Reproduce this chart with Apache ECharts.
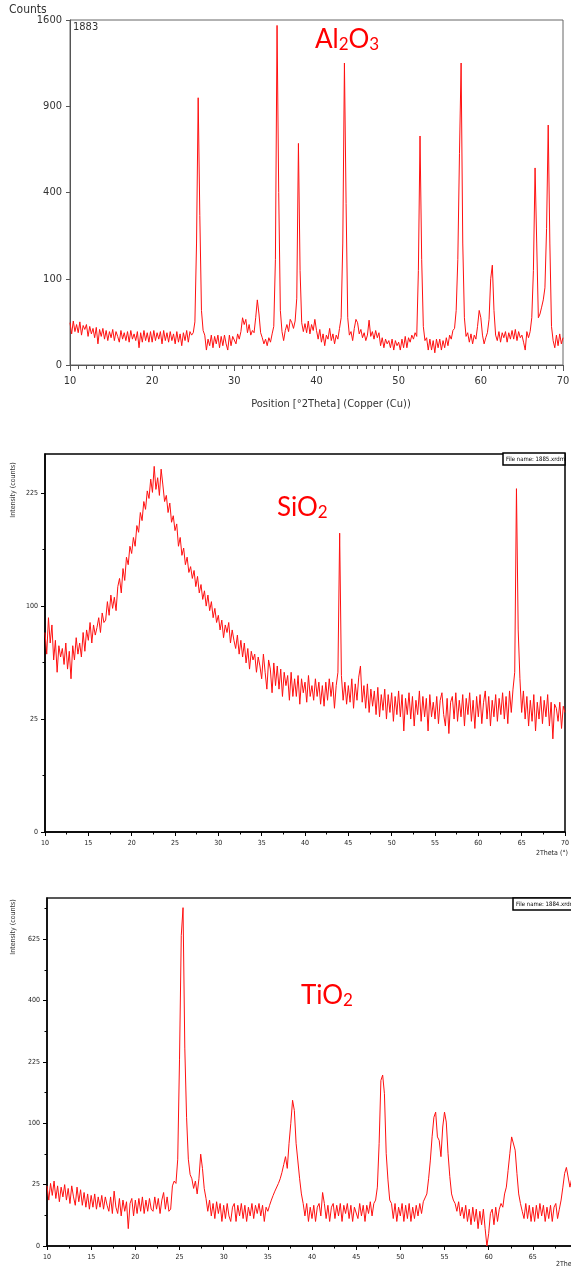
<!DOCTYPE html>
<html>
<head>
<meta charset="utf-8">
<script src="https://cdn.jsdelivr.net/npm/echarts@6/dist/echarts.min.js"></script>
<style>
  html, body { margin: 0; padding: 0; background: #fff; overflow: hidden; }
  #main { width: 571px; height: 1269px; }
</style>
</head>
<body>
<div id="main"></div>
<script>
// all three scans start at 10 deg 2theta, one reading every 0.2 deg
const START_ANGLE = 10
const STEP = 0.2

// Al2O3 counts, one row per degree (10 .. 69) and the last point at 70
const al2o3Counts = [
  24, 13, 26, 15, 22,
  14, 25, 12, 21, 17,
  22, 11, 20, 13, 18,
  10, 19, 6, 17, 11,
  18, 9, 16, 8, 15,
  10, 17, 8, 15, 11,
  7, 16, 9, 14, 8,
  15, 7, 16, 9, 13,
  8, 15, 4, 14, 7,
  16, 8, 14, 7, 15,
  7, 16, 8, 14, 9,
  15, 6, 16, 8, 14,
  7, 15, 8, 13, 6,
  15, 7, 13, 5, 14,
  8, 16, 7, 15, 12,
  14, 25, 200, 960, 300,
  40, 16, 12, 3, 9,
  5, 12, 4, 11, 6,
  12, 4, 11, 5, 12,
  6, 3, 12, 5, 11,
  11, 6, 13, 9, 15,
  30, 22, 28, 14, 22,
  12, 16, 14, 30, 57,
  35, 14, 10, 6, 9,
  5, 10, 7, 13, 20,
  150, 1550, 400, 40, 15,
  8, 16, 22, 15, 28,
  24, 18, 26, 60, 660,
  120, 24, 15, 23, 14,
  26, 13, 22, 16, 28,
  16, 9, 17, 7, 13,
  5, 12, 9, 18, 8,
  13, 6, 12, 9, 18,
  30, 200, 1226, 350, 30,
  12, 15, 8, 18, 28,
  24, 13, 17, 10, 14,
  8, 12, 27, 11, 15,
  9, 16, 10, 14, 5,
  10, 4, 9, 6, 8,
  4, 9, 3, 8, 5,
  7, 3, 9, 4, 11,
  4, 10, 7, 12, 9,
  14, 11, 120, 705, 150,
  20, 8, 10, 3, 9,
  3, 8, 2, 9, 4,
  9, 3, 8, 4, 10,
  5, 12, 9, 16, 18,
  40, 150, 600, 1226, 200,
  30, 11, 14, 7, 13,
  6, 12, 9, 20, 40,
  30, 12, 6, 10, 14,
  28, 100, 134, 40, 12,
  8, 15, 7, 14, 10,
  15, 7, 14, 9, 16,
  9, 17, 8, 15, 10,
  12, 7, 3, 15, 10,
  15, 30, 120, 522, 200,
  30, 35, 45, 57, 80,
  250, 774, 200, 20, 8,
  4, 12, 5, 13, 6,
  10
]

// SiO2 counts
const sio2Counts = [
  78, 62, 90, 70, 84,
  58, 72, 50, 68, 60,
  66, 55, 70, 52, 64,
  46, 68, 58, 74, 62,
  70, 60, 78, 64, 80,
  72, 86, 70, 84, 76,
  82, 90, 78, 94, 86,
  88, 104, 92, 110, 98,
  108, 96, 118, 126, 112,
  136, 124, 148, 140, 160,
  152, 170, 160, 184, 176,
  200, 190, 214, 204, 228,
  218, 244, 226, 262, 230,
  246, 222, 258, 236, 214,
  222, 200, 212, 188, 196,
  178, 186, 160, 170, 150,
  158, 140, 148, 132, 138,
  126, 134, 118, 128, 112,
  120, 106, 114, 100, 110,
  96, 104, 90, 98, 86,
  92, 80, 88, 74, 84,
  78, 86, 70, 80, 72,
  66, 76, 62, 72, 60,
  70, 56, 66, 52, 64,
  58, 62, 50, 60, 54,
  46, 62, 50, 40, 58,
  52, 38, 56, 42, 54,
  40, 52, 36, 50, 42,
  48, 34, 50, 36, 46,
  36, 48, 32, 46, 38,
  44, 33, 48, 36, 42,
  34, 46, 36, 44, 32,
  42, 31, 44, 34, 46,
  36, 44, 30, 42, 50,
  175, 48, 34, 44, 32,
  42, 33, 46, 30, 43,
  34, 47, 54, 33, 42,
  30, 43, 28, 40, 31,
  39, 27, 41, 26, 37,
  29, 40, 25, 37, 28,
  38, 24, 36, 27, 39,
  26, 37, 20, 35, 27,
  38, 25, 36, 22, 34,
  27, 39, 24, 36, 26,
  35, 20, 37, 26, 33,
  25, 36, 23, 34, 38,
  27, 22, 35, 19, 33,
  36, 25, 38, 24, 34,
  26, 37, 22, 35, 27,
  38, 24, 34, 21, 36,
  26, 37, 23, 33, 39,
  25, 36, 22, 34, 26,
  37, 24, 35, 27, 38,
  25, 36, 23, 39, 28,
  40, 50, 231, 80, 46,
  28, 39, 25, 36, 22,
  34, 24, 37, 20, 33,
  25, 36, 23, 34, 26,
  37, 22, 33, 17, 32,
  30, 24, 33, 21, 31,
  28
]

// TiO2 counts (the scan is cut at the right edge of the picture)
const tio2Counts = [
  24, 14, 26, 17, 28,
  15, 24, 13, 23, 16,
  25, 14, 22, 12, 24,
  16, 11, 23, 13, 21,
  11, 19, 10, 18, 9,
  17, 10, 18, 9, 16,
  10, 17, 9, 16, 11,
  8, 16, 7, 20, 10,
  7, 15, 6, 14, 8,
  13, 2, 12, 15, 6,
  14, 7, 15, 8, 16,
  7, 14, 8, 15, 9,
  8, 16, 9, 15, 7,
  14, 19, 9, 16, 8,
  9, 24, 28, 26, 50,
  230, 640, 760, 260, 110,
  50, 34, 30, 22, 28,
  18, 30, 56, 40, 22,
  15, 8, 14, 6, 12,
  5, 13, 7, 12, 4,
  11, 5, 12, 6, 4,
  10, 12, 4, 11, 6,
  12, 5, 11, 4, 10,
  6, 12, 5, 11, 7,
  12, 6, 11, 4, 10,
  8, 11, 14, 17, 20,
  21, 26, 30, 36, 44,
  53, 40, 70, 100, 141,
  122, 70, 48, 30, 18,
  12, 6, 12, 4, 10,
  5, 11, 4, 10, 12,
  6, 19, 12, 5, 11,
  4, 10, 12, 5, 11,
  6, 12, 4, 11, 7,
  12, 5, 11, 4, 10,
  11, 5, 12, 6, 11,
  4, 11, 7, 13, 6,
  12, 14, 23, 70, 182,
  194, 154, 57, 29, 14,
  12, 5, 12, 4, 10,
  6, 12, 4, 11, 5,
  12, 4, 10, 5, 11,
  6, 12, 7, 13, 14,
  18, 30, 49, 80, 110,
  119, 79, 74, 53, 94,
  119, 102, 57, 32, 18,
  14, 12, 8, 13, 6,
  10, 5, 11, 4, 9,
  3, 10, 4, 9, 2,
  8, 3, 9, 2, 0,
  1, 7, 9, 3, 10,
  4, 9, 12, 10, 18,
  23, 38, 57, 79, 81,
  61, 35, 18, 12, 8,
  5, 12, 5, 11, 4,
  10, 4, 11, 5, 12,
  6, 11, 4, 10, 5,
  11, 4, 10, 12, 5,
  9, 14, 23, 35, 41,
  41, 23, 30
]

// y tick labels (counts) - the axes are square-root scaled
const al2o3YTicks = [0, 100, 400, 900, 1600]
const sio2YTicks = [0, 25, 100, 225]
const sio2YMinor = [6.25, 56.25, 156.25]
const tio2YTicks = [0, 25, 100, 225, 400, 625]
const tio2YMinor = [6.25, 56.25, 156.25, 306.25, 506.25, 756.25]

// counts at the top edge of each plot
const al2o3YTop = 1600
const sio2YTop = 280
const tio2YTop = 804

const NARROW = "'Liberation Sans Narrow', 'DejaVu Sans Condensed', sans-serif"
const TITLE_FONT = "Lato, 'Open Sans', sans-serif"

function toPoints(counts) {
  return counts.map((c, i) => [+(START_ANGLE + i * STEP).toFixed(1), Math.sqrt(c)])
}

function countLabel(v) {
  return String(Math.round(v * v))
}

function formula(left, top, parts) {
  // parts: [main, sub, main, sub]
  let text = ''
  parts.forEach((p, i) => { text += (i % 2 ? '{s|' : '{m|') + p + '}' })
  return {
    type: 'text', left: left, top: top, z: 10,
    style: {
      text: text,
      rich: {
        m: { fontSize: 26, lineHeight: 30, verticalAlign: 'bottom', fill: '#ff0000', fontFamily: TITLE_FONT },
        s: { fontSize: 17, lineHeight: 16, verticalAlign: 'bottom', fill: '#ff0000', fontFamily: TITLE_FONT }
      }
    }
  }
}

function fileBox(x, y, name) {
  return {
    type: 'group', z: 10,
    children: [
      { type: 'rect', shape: { x: x, y: y, width: 62, height: 12 }, style: { fill: '#fff', stroke: '#000', lineWidth: 1.5 } },
      { type: 'text', x: x + 3, y: y + 6, style: { text: name, fontSize: 6, fontFamily: NARROW, fill: '#000', verticalAlign: 'middle' } }
    ]
  }
}

function smallYAxis(grid, top, ticks, minor) {
  const max = Math.sqrt(top)
  return [
    {
      gridIndex: grid, type: 'value', min: 0, max: max,
      axisLine: { show: true, lineStyle: { color: '#000', width: 1.5 } },
      axisTick: { show: true, length: 4, customValues: ticks.map(Math.sqrt), lineStyle: { color: '#000' } },
      axisLabel: { customValues: ticks.map(Math.sqrt), formatter: countLabel, fontSize: 7, fontFamily: NARROW, color: '#222', margin: 7 },
      splitLine: { show: false }
    },
    {
      gridIndex: grid, type: 'value', min: 0, max: max, position: 'left',
      axisLine: { show: false },
      axisTick: { show: true, length: 2.5, customValues: minor.map(Math.sqrt), lineStyle: { color: '#000' } },
      axisLabel: { show: false },
      splitLine: { show: false }
    }
  ]
}

function smallXAxis(grid) {
  return {
    gridIndex: grid, type: 'value', min: 10, max: 70, interval: 5,
    axisLine: { show: true, onZero: false, lineStyle: { color: '#000', width: 1.5 } },
    axisTick: { length: 4, lineStyle: { color: '#000' } },
    minorTick: { show: true, splitNumber: 2, length: 2.5, lineStyle: { color: '#000' } },
    axisLabel: { fontSize: 7, fontFamily: NARROW, color: '#222', margin: 8 },
    splitLine: { show: false }
  }
}

const chart = echarts.init(document.getElementById('main'), null, { renderer: 'canvas' })

const lineStyle = { color: '#ff1010', width: 1 }

const option = {
  animation: false,
  backgroundColor: '#fff',
  grid: [
    { left: 70, top: 20, width: 493, height: 345, show: true, borderColor: '#666', borderWidth: 1, outerBoundsMode: 'none' },
    { left: 45, top: 454, width: 520, height: 378, show: true, borderColor: '#000', borderWidth: 1.5, outerBoundsMode: 'none' },
    { left: 47, top: 898, width: 530, height: 348, show: true, borderColor: '#222', borderWidth: 1.5, outerBoundsMode: 'none' }
  ],
  xAxis: [
    {
      gridIndex: 0, type: 'value', min: 10, max: 70, interval: 10,
      axisLine: { show: true, onZero: false, lineStyle: { color: '#555' } },
      axisTick: { length: 6, lineStyle: { color: '#555' } },
      minorTick: { show: true, splitNumber: 10, length: 4, lineStyle: { color: '#555' } },
      axisLabel: { fontSize: 11, fontFamily: NARROW, color: '#333', margin: 11 },
      splitLine: { show: false }
    },
    smallXAxis(1),
    smallXAxis(2)
  ],
  yAxis: [
    {
      gridIndex: 0, type: 'value', min: 0, max: Math.sqrt(al2o3YTop),
      axisLine: { show: true, lineStyle: { color: '#555' } },
      axisTick: { show: true, length: 4, customValues: al2o3YTicks.map(Math.sqrt), lineStyle: { color: '#555' } },
      axisLabel: { customValues: al2o3YTicks.map(Math.sqrt), formatter: countLabel, fontSize: 11, fontFamily: NARROW, color: '#333', margin: 8 },
      splitLine: { show: false }
    },
    ...smallYAxis(1, sio2YTop, sio2YTicks, sio2YMinor),
    ...smallYAxis(2, tio2YTop, tio2YTicks, tio2YMinor)
  ],
  series: [
    { type: 'line', xAxisIndex: 0, yAxisIndex: 0, data: toPoints(al2o3Counts), showSymbol: false, lineStyle: lineStyle },
    { type: 'line', xAxisIndex: 1, yAxisIndex: 1, data: toPoints(sio2Counts), showSymbol: false, lineStyle: lineStyle },
    { type: 'line', xAxisIndex: 2, yAxisIndex: 3, data: toPoints(tio2Counts), showSymbol: false, lineStyle: lineStyle }
  ],
  graphic: [
    { type: 'text', left: 9, top: 4, style: { text: 'Counts', fontSize: 12, fontFamily: NARROW, fill: '#333' } },
    { type: 'text', left: 73, top: 22, style: { text: '1883', fontSize: 11, fontFamily: NARROW, fill: '#333' } },
    { type: 'text', x: 331, y: 404, style: { text: 'Position [°2Theta] (Copper (Cu))', fontSize: 11, fontFamily: NARROW, fill: '#333', align: 'center', verticalAlign: 'middle' } },
    formula(315, 27, ['Al', '2', 'O', '3']),

    { type: 'text', x: 13, y: 490, rotation: Math.PI / 2, style: { text: 'Intensity (counts)', fontSize: 7, fontFamily: NARROW, fill: '#333', align: 'center', verticalAlign: 'middle' } },
    fileBox(503, 453, 'File name: 1885.xrdml'),
    { type: 'text', x: 568, y: 853, style: { text: '2Theta (°)', fontSize: 7, fontFamily: NARROW, fill: '#222', align: 'right', verticalAlign: 'middle' } },
    formula(277, 495, ['SiO', '2']),

    { type: 'text', x: 13, y: 927, rotation: Math.PI / 2, style: { text: 'Intensity (counts)', fontSize: 7, fontFamily: NARROW, fill: '#333', align: 'center', verticalAlign: 'middle' } },
    fileBox(513, 898, 'File name: 1884.xrdml'),
    { type: 'text', x: 556, y: 1264, style: { text: '2Theta (°)', fontSize: 7, fontFamily: NARROW, fill: '#222', verticalAlign: 'middle' } },
    formula(301, 983, ['TiO', '2'])
  ]
}

chart.setOption(option)
</script>
</body>
</html>
